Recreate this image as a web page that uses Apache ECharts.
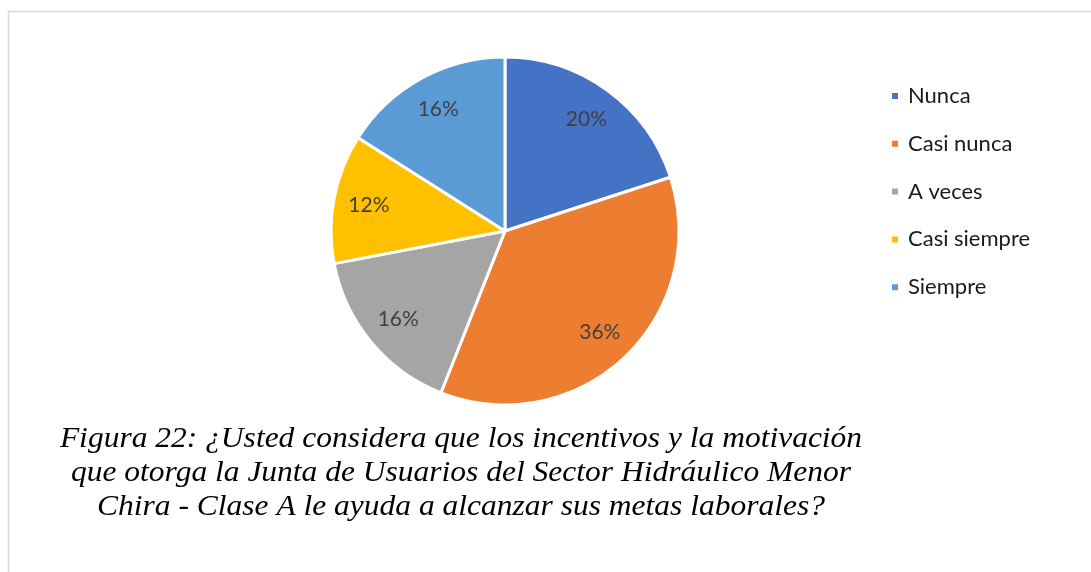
<!DOCTYPE html>
<html>
<head>
<meta charset="utf-8">
<script src="https://cdn.jsdelivr.net/npm/echarts@6/dist/echarts.min.js"></script>
<style>
  html, body { margin: 0; padding: 0; background: #fff; }
  #chart { width: 1091px; height: 572px; }
</style>
</head>
<body>
<div id="chart"></div>
<script>
const categories = ['Nunca', 'Casi nunca', 'A veces', 'Casi siempre', 'Siempre']
const values = [20, 36, 16, 12, 16]
const colors = ['#4472C4', '#ED7D31', '#A5A5A5', '#FFC000', '#5B9BD5']
const captionLines = [
  'Figura 22: ¿Usted considera que los incentivos y la motivación',
  'que otorga la Junta de Usuarios del Sector Hidráulico Menor',
  'Chira - Clase A le ayuda a alcanzar sus metas laborales?',
]

const chart = echarts.init(document.getElementById('chart'), null, { renderer: 'canvas' })

const pieData = categories.map((name, i) => ({
  name,
  value: values[i],
  itemStyle: { color: colors[i] },
}))

chart.setOption({
  backgroundColor: '#fff',
  animation: false,
  color: colors,
  legend: {
    orient: 'vertical',
    left: 885,
    top: 80,
    itemWidth: 8,
    itemHeight: 8,
    itemGap: 25.8,
    icon: 'rect',
    textStyle: { color: '#1a1a1a', fontSize: 22, fontFamily: 'Lato', lineHeight: 22, padding: [0, 0, 0, 4] },
    data: categories,
  },
  series: [
    {
      type: 'pie',
      center: [505, 231],
      radius: 174,
      startAngle: 90,
      clockwise: true,
      label: { show: false },
      labelLine: { show: false },
      emphasis: { disabled: true },
      itemStyle: { borderColor: '#fff', borderWidth: 3 },
      data: pieData,
    },
    {
      // transparent ring only used to place the percentage labels
      type: 'pie',
      center: [505, 231],
      radius: [97, 174],
      startAngle: 90,
      clockwise: true,
      silent: true,
      itemStyle: { color: 'transparent' },
      label: {
        show: true,
        position: 'inside',
        color: '#404040',
        fontSize: 21,
        fontFamily: 'Lato',
        formatter: (p) => Math.round(p.percent) + '%',
      },
      labelLine: { show: false },
      data: categories.map((name, i) => ({ name, value: values[i] })),
    },
  ],
  graphic: [
    {
      type: 'rect',
      shape: { x: 8.5, y: 11.5, width: 1200, height: 700 },
      style: { fill: 'none', stroke: '#d9d9d9', lineWidth: 1.5 },
      silent: true,
    },
    {
      type: 'text',
      x: 461,
      y: 422,
      scaleX: 1.05,
      style: {
        text: captionLines.join('\n'),
        font: 'italic 30px "Liberation Serif"',
        fill: '#000',
        textAlign: 'center',
        lineHeight: 34,
      },
    },
  ],
})
</script>
</body>
</html>
